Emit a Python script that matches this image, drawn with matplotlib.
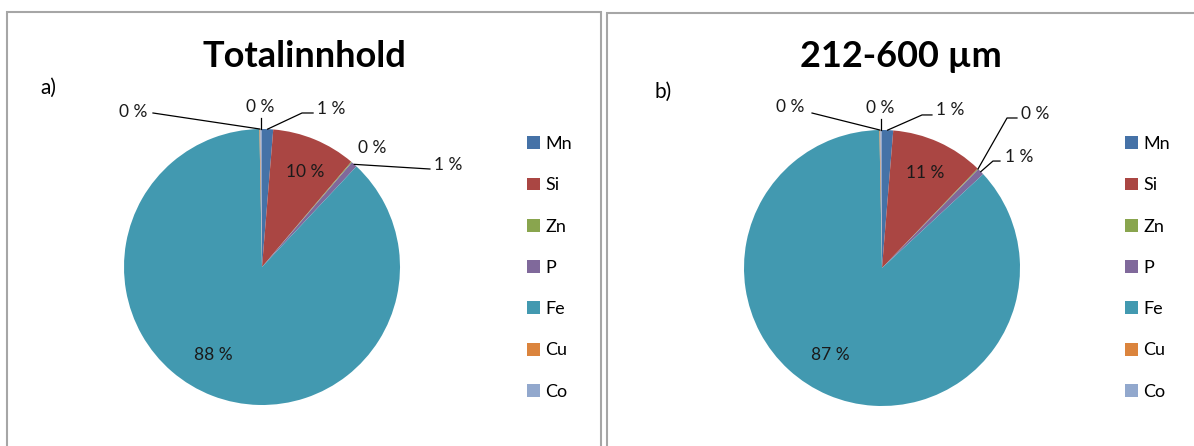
import matplotlib.pyplot as plt
from matplotlib.patches import Rectangle
import numpy as np

W, H = 1194, 446

elements = ["Mn", "Si", "Zn", "P", "Fe", "Cu", "Co"]
colors = ["#4572A7", "#AA4643", "#89A54E", "#80699B", "#4299B0", "#DB843D", "#92A8CD"]

total_values = [1.3, 9.9, 0.1, 0.7, 87.7, 0.1, 0.2]
fine_values = [1.3, 10.9, 0.1, 0.8, 86.6, 0.1, 0.2]

titles = ["Totalinnhold", "212-600 µm"]
tags = ["a)", "b)"]

plt.rcParams['font.family'] = ['Lato', 'DejaVu Sans']

# label layout, in pie radius units: element -> (text x, text y, leader waypoints)
layout_a = {
    "Cu": (-0.935, 1.123, [(-0.79, 1.116)]),
    "Co": (-0.01, 1.16, [(None, 1.08)]),
    "Mn": (0.50, 1.145, [(0.29, 1.116), (0.37, 1.116)]),
    "Zn": (0.80, 0.86, []),
    "P": (1.35, 0.74, [(1.217, 0.71)]),
    "Si": (0.31, 0.69, None),
    "Fe": (-0.355, -0.64, None),
}
layout_b = {
    "Cu": (-0.667, 1.167, [(-0.507, 1.123)]),
    "Co": (-0.015, 1.16, [(None, 1.08)]),
    "Mn": (0.496, 1.145, [(0.29, 1.109), (0.362, 1.109)]),
    "Zn": (1.11, 1.116, [(0.906, 1.087), (0.978, 1.087)]),
    "P": (0.996, 0.804, [(0.804, 0.775), (0.855, 0.775)]),
    "Si": (0.31, 0.69, None),
    "Fe": (-0.377, -0.63, None),
}

panels = [
    dict(values=total_values, layout=layout_a, center=(262, 267), title_x=304, tag=(40, 88),
         legend=(527, 136), frame=(7, 12, 601)),
    dict(values=fine_values, layout=layout_b, center=(882, 268), title_x=901, tag=(655, 92),
         legend=(1125, 136), frame=(607, 13, 1200)),
]

fig = plt.figure(figsize=(W / 100, H / 100), dpi=100)
R = 138

for i, p in enumerate(panels):
    x0, y0, x1 = p["frame"]
    fig.add_artist(Rectangle((x0 / W, 0 - 0.05), (x1 - x0) / W, 1.05 - y0 / H,
                             transform=fig.transFigure, fill=False,
                             edgecolor="#A6A6A6", linewidth=1.5))

    cx, cy = p["center"]
    ax = fig.add_axes([(cx - R) / W, 1 - (cy + R) / H, 2 * R / W, 2 * R / H])
    wedges, _ = ax.pie(p["values"], colors=colors, startangle=90, counterclock=False,
                       radius=1, wedgeprops=dict(linewidth=0))
    ax.set_xlim(-1, 1)
    ax.set_ylim(-1, 1)
    ax.axis("off")

    tot = sum(p["values"])
    for w, el, v in zip(wedges, elements, p["values"]):
        tx, ty, leader = p["layout"][el]
        txt = "{:.0f} %".format(v / tot * 100)
        ax.text(tx, ty, txt, ha="center", va="center", fontsize=12.5, color="#1a1a1a")
        if not leader:
            continue
        mid = np.deg2rad((w.theta1 + w.theta2) / 2)
        ex, ey = np.cos(mid), np.sin(mid)
        xs = [ex] + [ex if lx is None else lx for lx, ly in leader]
        ys = [ey] + [ly for lx, ly in leader]
        ax.plot(xs, ys, color="black", linewidth=0.9, clip_on=False)

    fig.text(p["title_x"] / W, 1 - 67 / H, titles[i], ha="center", va="baseline",
             fontsize=26, fontweight="bold")
    fig.text(p["tag"][0] / W, 1 - p["tag"][1] / H, tags[i], ha="left", va="center",
             fontsize=15)

    lx, ly = p["legend"]
    ax.legend(wedges, elements, loc="upper left", bbox_to_anchor=(lx / W, 1 - ly / H),
              bbox_transform=fig.transFigure, frameon=False, fontsize=13,
              handlelength=0.72, handleheight=0.72, handletextpad=0.3,
              labelspacing=1.4, borderpad=0, borderaxespad=0)

fig.savefig("out.png", dpi=100)
